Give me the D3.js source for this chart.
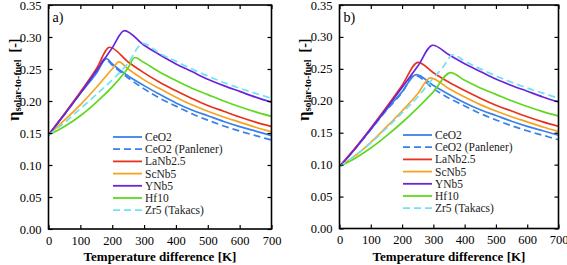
<!DOCTYPE html>
<html><head><meta charset="utf-8">
<script src="https://cdn.jsdelivr.net/npm/d3@7"></script>
<style>body{margin:0;background:#fff}</style>
</head><body>
<svg id="chart" width="567" height="265" font-family="Liberation Serif"></svg>
<script>
// ---------- data ----------
const seriesNames = ["CeO2", "CeO2 (Panlener)", "LaNb2.5", "ScNb5", "YNb5", "Hf10", "Zr5 (Takacs)"];
const seriesColors = ["#3a80ea", "#3a80ea", "#e8321e", "#f7a320", "#6a24dc", "#5fd81f", "#6fe3f3"];
const seriesDashed = [false, true, false, false, false, false, true];
const xTicks = [0, 100, 200, 300, 400, 500, 600, 700];
const yTicks = [0, 0.05, 0.10, 0.15, 0.20, 0.25, 0.30, 0.35];
const panelLabels = ["a)", "b)"];

// panel a
const a_CeO2 = [[0,.147],[50,.179],[100,.212],[150,.243],[182,.266],[200,.258],[250,.239],[300,.224],[350,.210],[400,.197],[450,.186],[500,.177],[550,.168],[600,.160],[650,.153],[700,.146]];
const a_Panlener = [[0,.147],[50,.179],[100,.212],[150,.245],[177,.266],[200,.256],[250,.236],[300,.219],[350,.204],[400,.192],[450,.180],[500,.170],[550,.161],[600,.153],[650,.146],[700,.139]];
const a_LaNb = [[0,.147],[50,.180],[100,.214],[150,.250],[192,.284],[250,.261],[300,.244],[350,.229],[400,.216],[450,.204],[500,.193],[550,.184],[600,.175],[650,.167],[700,.160]];
const a_ScNb = [[0,.147],[50,.170],[100,.194],[150,.221],[200,.250],[221,.261],[250,.250],[300,.233],[350,.219],[400,.206],[450,.194],[500,.184],[550,.175],[600,.167],[650,.159],[700,.152]];
const a_YNb = [[0,.147],[50,.179],[100,.212],[150,.247],[200,.283],[238,.310],[300,.287],[350,.272],[400,.258],[450,.246],[500,.234],[550,.224],[600,.215],[650,.206],[700,.198]];
const a_Hf = [[0,.147],[50,.160],[100,.177],[150,.198],[200,.222],[250,.252],[271,.268],[300,.260],[350,.245],[400,.232],[450,.220],[500,.210],[550,.200],[600,.191],[650,.183],[700,.176]];
const a_Zr = [[0,.147],[50,.166],[100,.188],[150,.210],[200,.233],[250,.259],[296,.290],[350,.274],[400,.262],[450,.250],[500,.239],[550,.229],[600,.220],[650,.212],[700,.204]];

// panel b
const b_CeO2 = [[0,.097],[50,.125],[100,.155],[150,.186],[200,.214],[245,.241],[300,.224],[350,.210],[400,.197],[450,.186],[500,.177],[550,.168],[600,.160],[650,.153],[700,.146]];
const b_Panlener = [[0,.097],[50,.125],[100,.155],[150,.185],[200,.213],[240,.240],[300,.219],[350,.204],[400,.192],[450,.180],[500,.170],[550,.161],[600,.153],[650,.146],[700,.139]];
const b_LaNb = [[0,.097],[50,.126],[100,.157],[150,.190],[200,.224],[251,.260],[300,.244],[350,.229],[400,.216],[450,.204],[500,.193],[550,.184],[600,.175],[650,.167],[700,.160]];
const b_ScNb = [[0,.097],[50,.114],[100,.135],[150,.159],[200,.184],[250,.211],[290,.236],[350,.219],[400,.206],[450,.194],[500,.184],[550,.175],[600,.167],[650,.159],[700,.152]];
const b_YNb = [[0,.097],[50,.125],[100,.156],[150,.188],[200,.221],[250,.254],[298,.287],[350,.272],[400,.258],[450,.246],[500,.234],[550,.224],[600,.215],[650,.206],[700,.198]];
const b_Hf = [[0,.097],[50,.110],[100,.126],[150,.145],[200,.166],[250,.189],[300,.214],[355,.244],[400,.232],[450,.220],[500,.210],[550,.200],[600,.191],[650,.183],[700,.176]];
const b_Zr = [[0,.097],[50,.114],[100,.134],[150,.157],[200,.181],[250,.206],[290,.230],[330,.252],[362,.272],[400,.262],[450,.250],[500,.239],[550,.229],[600,.220],[650,.212],[700,.204]];

const panelA = [a_CeO2, a_Panlener, a_LaNb, a_ScNb, a_YNb, a_Hf, a_Zr];
const panelB = [b_CeO2, b_Panlener, b_LaNb, b_ScNb, b_YNb, b_Hf, b_Zr];

// ---------- drawing ----------
const svg = d3.select("#chart");
const FONT = "Liberation Serif";
function serif(sel, size) {
  return sel.attr("font-family", FONT).style("font-family", '"Liberation Serif"').attr("font-size", size).style("font-size", size + "px");
}

const panels = [
  {data: panelA, left: 48.5, right: 271.5, top: 5, bottom: 229, label: panelLabels[0], ylabX: 14, legX: 113, legY: 137},
  {data: panelB, left: 339.5, right: 558.5, top: 5, bottom: 228.5, label: panelLabels[1], ylabX: 304, legX: 403, legY: 135}
];

panels.forEach(p => {
  const x = d3.scaleLinear().domain([0, 700]).range([p.left, p.right]);
  const y = d3.scaleLinear().domain([0, 0.35]).range([p.bottom, p.top]);
  const g = svg.append("g").attr("font-family", FONT);

  const line = d3.line().x(d => x(d[0])).y(d => y(d[1])).curve(d3.curveMonotoneX);
  p.data.forEach((s, i) => {
    g.append("path").datum(s)
      .attr("d", line)
      .attr("fill", "none")
      .attr("stroke", seriesColors[i])
      .attr("stroke-width", 1.7)
      .attr("stroke-dasharray", seriesDashed[i] ? "7,4" : null);
  });

  const tickLen = 4;
  const axB = d3.axisBottom(x).tickValues(xTicks).tickSize(-tickLen).tickPadding(7).tickFormat(d3.format("d"));
  const axT = d3.axisTop(x).tickValues(xTicks).tickSize(-tickLen).tickFormat("");
  const axL = d3.axisLeft(y).tickValues(yTicks).tickSize(-tickLen).tickPadding(7).tickFormat(d3.format(".2f"));
  const axR = d3.axisRight(y).tickValues(yTicks).tickSize(-tickLen).tickFormat("");

  [[axB, `translate(0,${p.bottom})`], [axT, `translate(0,${p.top})`],
   [axL, `translate(${p.left},0)`], [axR, `translate(${p.right},0)`]].forEach(([ax, tr]) => {
    const ag = g.append("g").attr("transform", tr).call(ax);
    ag.attr("font-family", FONT).attr("font-size", 12);
    ag.select(".domain").remove();
    ag.selectAll(".tick line").attr("stroke", "#000").attr("stroke-width", 1.2);
    serif(ag.selectAll(".tick text"), 12.5).attr("fill", "#000");
  });

  g.append("rect").attr("x", p.left).attr("y", p.top)
    .attr("width", p.right - p.left).attr("height", p.bottom - p.top)
    .attr("fill", "none").attr("stroke", "#000").attr("stroke-width", 1.6);

  serif(g.append("text"), 14).attr("x", p.left + 4).attr("y", p.top + 17).text(p.label);

  serif(g.append("text"), 13).attr("x", (p.left + p.right) / 2).attr("y", 261)
    .attr("text-anchor", "middle").attr("font-weight", "bold").text("Temperature difference [K]");

  const yt = serif(g.append("text"), 14)
    .attr("transform", `translate(${p.ylabX},121) rotate(-90)`)
    .attr("text-anchor", "start").attr("font-weight", "bold");
  serif(yt.append("tspan"), 17).attr("dy", 5).text("η");
  serif(yt.append("tspan"), 10).attr("dy", 2).text("solar-to-fuel");
  serif(yt.append("tspan"), 14).attr("dy", -2).text("\u2002[-]");

  seriesNames.forEach((n, i) => {
    const ly = p.legY + i * 12.2;
    g.append("line").attr("x1", p.legX).attr("x2", p.legX + 29).attr("y1", ly).attr("y2", ly)
      .attr("stroke", seriesColors[i]).attr("stroke-width", 1.8)
      .attr("stroke-dasharray", seriesDashed[i] ? "7,4" : null);
    serif(g.append("text"), 11.5).attr("x", p.legX + 32).attr("y", ly + 4)
      .attr("fill", "#222").text(n);
  });
});
</script>
</body></html>
